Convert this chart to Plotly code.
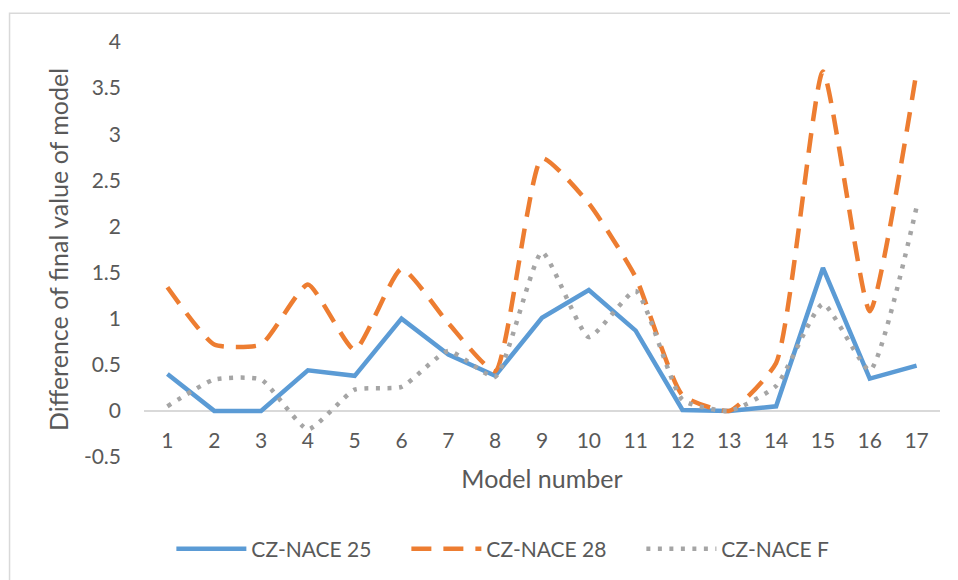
import plotly.graph_objects as go

# ---- data ----
models = list(range(1, 18))
model_labels = [str(m) for m in models]

nace25 = [0.40, 0.00, 0.00, 0.44, 0.38, 1.00, 0.61, 0.38, 1.01, 1.31, 0.87, 0.01, 0.00, 0.05, 1.55, 0.35, 0.49]
nace28 = [1.34, 0.72, 0.72, 1.37, 0.66, 1.54, 0.95, 0.43, 2.74, 2.25, 1.45, 0.17, 0.00, 0.52, 3.68, 1.08, 3.68]
naceF = [0.05, 0.34, 0.34, -0.20, 0.23, 0.26, 0.65, 0.37, 1.72, 0.80, 1.30, 0.12, 0.00, 0.27, 1.16, 0.44, 2.21]

y_tickvals = [-0.5, 0, 0.5, 1, 1.5, 2, 2.5, 3, 3.5, 4]
y_ticktext = ["-0.5", "0", "0.5", "1", "1.5", "2", "2.5", "3", "3.5", "4"]

FONT = "Lato"
TXT = "#595959"
GRID = "#D9D9D9"

fig = go.Figure()
fig.add_trace(go.Scatter(
    x=models, y=nace25, name="CZ-NACE 25", mode="lines",
    line=dict(color="#5B9BD5", width=4.5)))
fig.add_trace(go.Scatter(
    x=models, y=nace28, name="CZ-NACE 28", mode="lines",
    line=dict(color="#ED7D31", width=4.5, dash="20px,12px", shape="spline", smoothing=0.5)))
fig.add_trace(go.Scatter(
    x=models, y=naceF, name="CZ-NACE F", mode="lines",
    line=dict(color="#A5A5A5", width=4.5, dash="4px,7.5px", shape="spline", smoothing=0.5)))

# page has an 8px body margin: figure origin sits at page (8, 8)
OFF = 8
W, H = 958 - OFF, 580 - OFF
plot_left, plot_right, plot_top, plot_bottom = 143.6, 940.4, 42, 458  # page px
L = plot_left - OFF
R = W - (plot_right - OFF)
T = plot_top - OFF
B = H - (plot_bottom - OFF)
pw = plot_right - plot_left
ph = plot_bottom - plot_top

fig.update_layout(
    width=W, height=H,
    margin=dict(l=L, r=R, t=T, b=B, pad=0),
    paper_bgcolor="white", plot_bgcolor="white",
    font=dict(family=FONT, size=21, color=TXT),
    showlegend=True,
    xaxis=dict(
        range=[0.5, 17.5], tickmode="array", tickvals=models, ticktext=model_labels,
        showgrid=False, zeroline=False, showline=False,
        anchor="free", position=(plot_bottom - 411.7) / ph,
        ticks="", ticklabelstandoff=15, automargin=False,
        title=dict(text="Model number", standoff=19, font=dict(size=25, color=TXT)),
    ),
    yaxis=dict(
        range=[-0.5, 4], tickmode="array", tickvals=y_tickvals, ticktext=y_ticktext,
        showgrid=False, zeroline=True, zerolinecolor=GRID, zerolinewidth=1.5,
        showline=False, ticks="", ticklabelstandoff=22, automargin=False,
        title=dict(text="Difference of final value of model", standoff=8, font=dict(size=25, color=TXT)),
    ),
    legend=dict(
        orientation="h", x=(171 - plot_left) / pw, xanchor="left",
        y=-(549 - plot_bottom) / ph, yanchor="middle",
        font=dict(size=21, color=TXT), itemwidth=70,
        entrywidth=150, entrywidthmode="pixels",
        bgcolor="rgba(0,0,0,0)",
    ),
    shapes=[dict(
        type="rect", xref="paper", yref="paper",
        x0=(9 - plot_left) / pw, x1=1.2, y0=-0.5, y1=1 + (plot_top - 13.3) / ph,
        line=dict(color=GRID, width=1.5), fillcolor="rgba(0,0,0,0)", layer="below",
    )],
)

fig.write_html("out.html")
